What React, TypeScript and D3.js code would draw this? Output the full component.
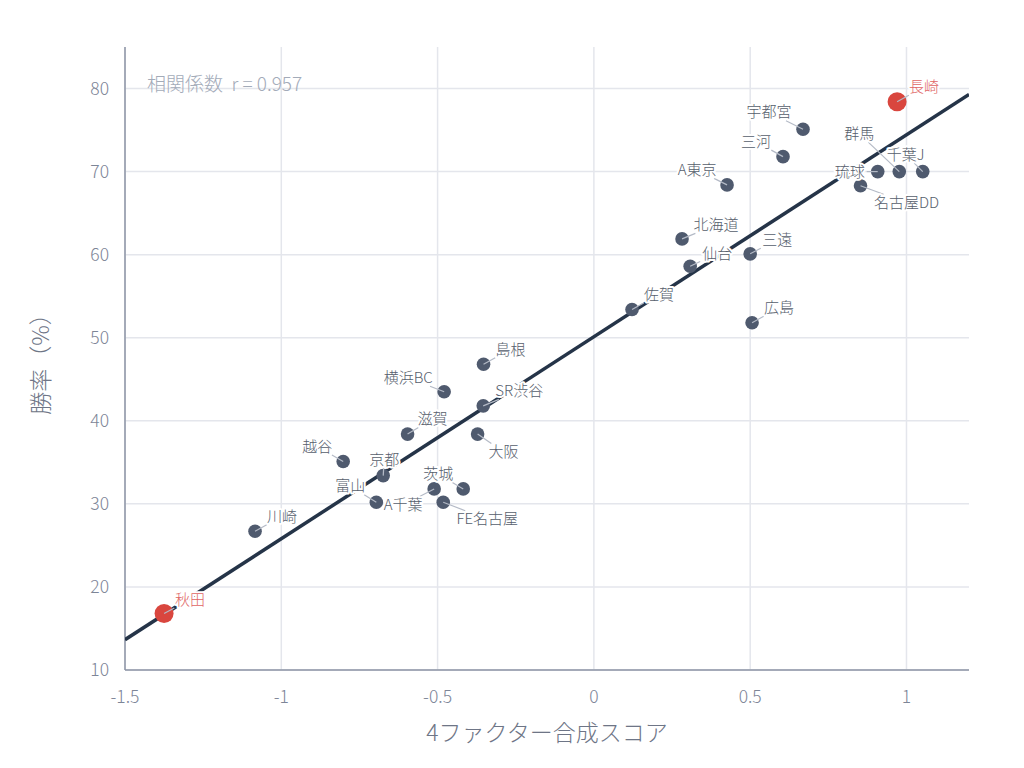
import React from "react";
import * as d3 from "d3";

const teams = ["長崎","宇都宮","三河","A東京","群馬","千葉J","琉球","名古屋DD","北海道","仙台","三遠","佐賀","広島","島根","横浜BC","SR渋谷","滋賀","大阪","越谷","京都","富山","A千葉","茨城","FE名古屋","川崎","秋田"];
const scores = [0.970,0.669,0.605,0.426,0.977,1.052,0.908,0.853,0.282,0.308,0.500,0.122,0.506,-0.353,-0.479,-0.354,-0.596,-0.372,-0.802,-0.674,-0.696,-0.511,-0.418,-0.482,-1.084,-1.375];
const winRates = [78.4,75.1,71.8,68.4,70.0,70.0,70.0,68.3,61.9,58.6,60.1,53.4,51.8,46.8,43.5,41.8,38.4,38.4,35.1,33.4,30.2,31.8,31.8,30.2,26.7,16.8];
const highlighted = ["長崎","秋田"];
const xTicks = [-1.5,-1,-0.5,0,0.5,1];
const yTicks = [10,20,30,40,50,60,70,80];
const xTitle = "4ファクター合成スコア";
const yTitle = "勝率（%）";
const corrText = "相関係数  r = 0.957";

// label placement (pixel offsets of label centre from point)
const labelOffsets: Record<string, [number, number]> = {
  "長崎": [27, -15], "宇都宮": [-34, -17], "三河": [-27, -15], "A東京": [-30, -15],
  "群馬": [-40, -38], "千葉J": [-17, -17], "琉球": [-28, 0], "名古屋DD": [46, 17],
  "北海道": [34, -14], "仙台": [27, -13], "三遠": [27, -14], "佐賀": [27, -15],
  "広島": [27, -15], "島根": [27, -15], "横浜BC": [-36, -14], "SR渋谷": [36, -15],
  "滋賀": [25, -15], "大阪": [26, 18], "越谷": [-26, -15], "京都": [1, -16],
  "富山": [-26, -16], "A千葉": [-31, 16], "茨城": [-25, -15], "FE名古屋": [44, 17],
  "川崎": [27, -15], "秋田": [26, -14],
};

const W = 1024, H = 768;
const M = { left: 125, right: 969, top: 47, bottom: 670 };
const FONT = "'Noto Sans CJK JP', 'Noto Sans', sans-serif";

function textWidth(s: string, fs: number) {
  let w = 0;
  for (const ch of s) w += /[\x00-\x7f]/.test(ch) ? fs * 0.58 : fs;
  return w;
}

export default function App() {
  const x = d3.scaleLinear().domain([-1.5, 1.2]).range([M.left, M.right]);
  const y = d3.scaleLinear().domain([10, 85]).range([M.bottom, M.top]);

  const mx = d3.mean(scores)!;
  const my = d3.mean(winRates)!;
  let sxy = 0, sxx = 0;
  scores.forEach((s, i) => { sxy += (s - mx) * (winRates[i] - my); sxx += (s - mx) * (s - mx); });
  const slope = sxy / sxx;
  const icpt = my - slope * mx;
  const lineGen = d3.line<number>().x(d => x(d)).y(d => y(icpt + slope * d));
  const regPath = lineGen([-1.5, 1.2]) || "";

  const fs = 15;
  const pts = teams.map((t, i) => {
    const px = x(scores[i]), py = y(winRates[i]);
    const off = labelOffsets[t] || [20, -15];
    const lx = px + off[0], ly = py + off[1];
    const hw = textWidth(t, fs) / 2 + 2, hh = fs / 2 + 1;
    const dx = lx - px, dy = ly - py;
    const tx = dx !== 0 ? hw / Math.abs(dx) : Infinity;
    const ty = dy !== 0 ? hh / Math.abs(dy) : Infinity;
    const tt = Math.min(tx, ty, 1);
    const ex = lx - dx * tt, ey = ly - dy * tt;
    return { t, px, py, lx, ly, ex, ey, hi: highlighted.includes(t) };
  });

  return (
    <svg width={W} height={H} style={{ position: "absolute", left: 0, top: 0, background: "#fff" }} fontFamily={FONT}>
      {xTicks.map(v => (
        <line key={"gx" + v} x1={x(v)} x2={x(v)} y1={M.top} y2={M.bottom} stroke="#e4e6ec" strokeWidth={1.5} />
      ))}
      {yTicks.map(v => (
        <line key={"gy" + v} x1={M.left} x2={M.right} y1={y(v)} y2={y(v)} stroke="#e4e6ec" strokeWidth={1.5} />
      ))}
      <line x1={M.left} x2={M.left} y1={M.top} y2={M.bottom} stroke="#8c94a5" strokeWidth={1.5} />
      <line x1={M.left} x2={M.right} y1={M.bottom} y2={M.bottom} stroke="#8c94a5" strokeWidth={1.5} />
      {xTicks.map(v => (
        <text key={"tx" + v} x={x(v)} y={M.bottom + 33} textAnchor="middle" fontSize={17.5} fill="#7d8597" fontWeight={300}>{String(v)}</text>
      ))}
      {yTicks.map(v => (
        <text key={"ty" + v} x={M.left - 16} y={y(v)} dy="0.35em" textAnchor="end" fontSize={17.5} fill="#7d8597" fontWeight={300}>{String(v)}</text>
      ))}
      <text x={(M.left + M.right) / 2} y={741} textAnchor="middle" fontSize={23} fill="#6e7586" fontWeight={300}>{xTitle}</text>
      <text transform={`translate(49,${(M.top + M.bottom) / 2}) rotate(-90)`} textAnchor="middle" fontSize={23} fill="#6e7586" fontWeight={300}>{yTitle}</text>
      <text x={147} y={91} fontSize={19} fill="#a3abb9" fontWeight={300} xmlSpace="preserve">{corrText}</text>
      <clipPath id="plotclip"><rect x={M.left} y={M.top} width={M.right - M.left} height={M.bottom - M.top} /></clipPath>
      <path d={regPath} stroke="#253448" strokeWidth={3.5} fill="none" clipPath="url(#plotclip)" />
      {pts.map(p => (
        <circle key={"c" + p.t} cx={p.px} cy={p.py} r={p.hi ? 9.5 : 6.8} fill={p.hi ? "#d9463e" : "#4f5a6e"} />
      ))}
      {pts.map(p => (
        <line key={"l" + p.t} x1={p.px} y1={p.py} x2={p.ex} y2={p.ey} stroke="#b4bac6" strokeWidth={1.2} />
      ))}
      {pts.map(p => (
        <text key={"t" + p.t} x={p.lx} y={p.ly} dy="0.35em" textAnchor="middle" fontSize={fs} fontWeight={300}
          fill={p.hi ? "#e06464" : "#565e6c"} stroke="#fff" strokeWidth={4} paintOrder="stroke" strokeLinejoin="round">{p.t}</text>
      ))}
    </svg>
  );
}
